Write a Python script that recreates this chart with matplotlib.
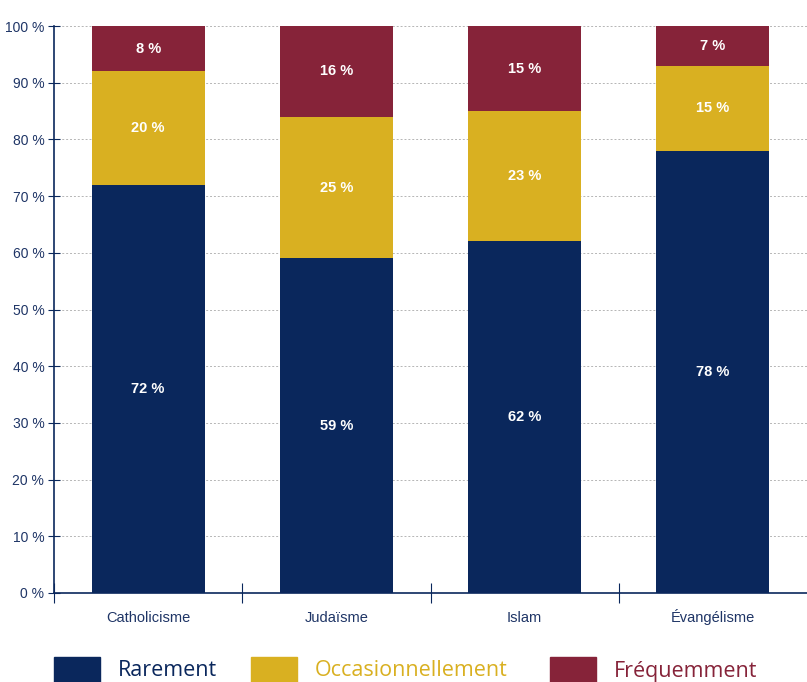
import matplotlib.pyplot as plt
from matplotlib.patches import Rectangle
import numpy as np

categories = ['Catholicisme', 'Judaïsme', 'Islam', 'Évangélisme']
rarement = [72, 59, 62, 78]
occasionnellement = [20, 25, 23, 15]
frequemment = [8, 16, 15, 7]
series_names = ['Rarement', 'Occasionnellement', 'Fréquemment']

navy = '#0a275c'
gold = '#d9b021'
maroon = '#862339'
text_navy = '#1f3566'
narrow = ['Liberation Sans', 'DejaVu Sans']

fig = plt.figure(figsize=(8.07, 6.82), dpi=100)
ax = fig.add_axes([54 / 807, 89 / 682, 753 / 807, 567 / 682])

x = np.arange(len(categories))
series = [rarement, occasionnellement, frequemment]
colors = [navy, gold, maroon]
bottom = np.zeros(len(categories))
for vals, col in zip(series, colors):
    bars = ax.bar(x, vals, width=0.6, bottom=bottom, color=col, zorder=3)
    for b, v, b0 in zip(bars, vals, bottom):
        ax.text(b.get_x() + b.get_width() / 2, b0 + v / 2, f'{v} %',
                ha='center', va='center', color='white', fontsize=10.5,
                fontweight='bold', family=narrow, zorder=4)
    bottom += np.array(vals)

ax.set_xlim(-0.5, 3.5)
ax.set_ylim(0, 100)
ax.set_yticks(range(0, 101, 10))
ax.set_yticklabels([f'{v} %' for v in range(0, 101, 10)], family=narrow,
                   fontsize=10, color=text_navy)
ax.yaxis.grid(True, linestyle=(0, (2, 2)), color='#b5b5b5', linewidth=0.7, zorder=0)
ax.tick_params(axis='y', direction='inout', length=8, color=navy, pad=3)

# category labels between boundary ticks
ax.set_xticks([-0.5, 0.5, 1.5, 2.5])
ax.set_xticklabels([])
ax.set_xticks(x, minor=True)
ax.set_xticklabels(categories, minor=True, family=narrow, fontsize=10.5,
                   color=text_navy, va='baseline')
ax.tick_params(axis='x', which='major', direction='inout', length=14, color=navy)
ax.tick_params(axis='x', which='minor', length=0, pad=21)

for s in ['top', 'right']:
    ax.spines[s].set_visible(False)
ax.spines['left'].set_color(navy)
ax.spines['bottom'].set_color(navy)
ax.spines['left'].set_linewidth(1.2)
ax.spines['bottom'].set_linewidth(1.2)

# legend along the bottom edge
leg_x = [54, 251, 550]
for lx, name, col in zip(leg_x, series_names, colors):
    fig.patches.append(Rectangle((lx / 807, 0), 46 / 807, 25 / 682,
                                 transform=fig.transFigure, color=col))
    fig.text((lx + 64) / 807, 11 / 682, name, color=col, fontsize=15.5,
             family='Open Sans', va='center', ha='left')

fig.savefig('out.png', dpi=100)
